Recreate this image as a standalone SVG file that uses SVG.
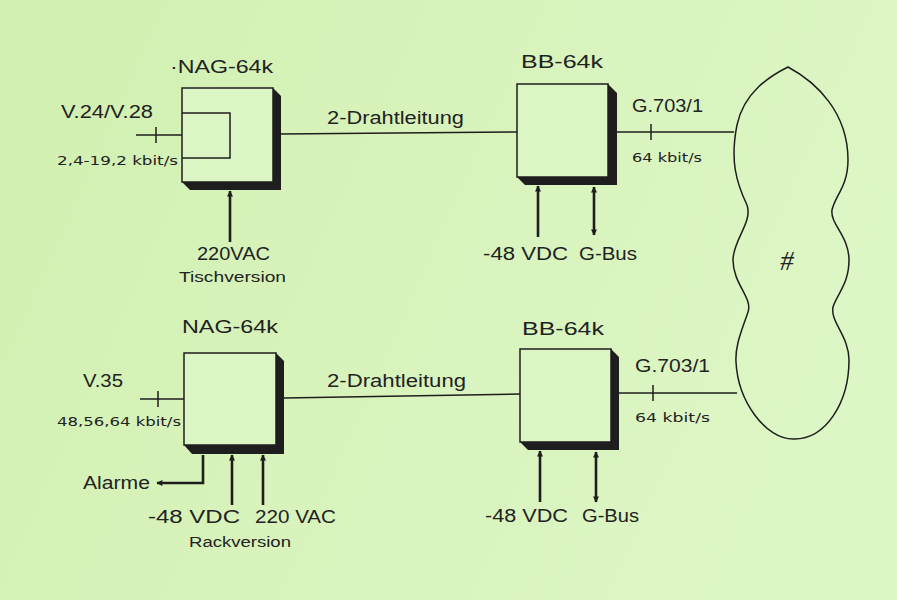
<svg xmlns="http://www.w3.org/2000/svg" width="897" height="600" viewBox="0 0 897 600">
<defs>
<linearGradient id="bg" x1="0" y1="0" x2="1" y2="0.3">
<stop offset="0" stop-color="#d2f0b1"/>
<stop offset="1" stop-color="#ddf6c5"/>
</linearGradient>
<marker id="ah" viewBox="0 0 10 10" refX="9" refY="5" markerWidth="9" markerHeight="6" markerUnits="userSpaceOnUse" orient="auto-start-reverse">
<path d="M0,0 L10,5 L0,10 Z" fill="#1e1e1e"/>
</marker>
</defs>
<style>
.t{font-family:"Liberation Sans","DejaVu Sans",sans-serif;fill:#222;font-size:17.5px}
.s{font-family:"DejaVu Sans","Liberation Sans",sans-serif;font-size:11.5px}
.m{font-size:14px}
.ln{stroke:#1e1e1e;stroke-width:1.5;fill:none}
.ar{stroke:#1e1e1e;stroke-width:2.6;fill:none}
.box{fill:#dcf5c4;stroke:#1e1e1e;stroke-width:1.5}
.sh{fill:#1e1e1e}
</style>
<rect width="897" height="600" fill="url(#bg)"/>

<g id="nag1">
<polygon class="sh" points="273,88 281,96 281,190 190,190 182,182 273,182"/>
<rect class="box" x="182" y="88" width="91" height="94"/>
<polyline class="ln" points="182,113 230,113 230,158 182,158"/>
<text class="t" x="170" y="73" textLength="103" lengthAdjust="spacingAndGlyphs">·NAG-64k</text>
</g>

<g id="bb1">
<polygon class="sh" points="608,84 617,93 617,185 525,185 517,177 608,177"/>
<rect class="box" x="517" y="84" width="91" height="93"/>
<text class="t" x="521" y="68" textLength="82" lengthAdjust="spacingAndGlyphs">BB-64k</text>
</g>

<g id="nag2">
<polygon class="sh" points="276,353 284,361 284,454 192,454 184,445 276,445"/>
<rect class="box" x="184" y="353" width="92" height="92"/>
<text class="t" x="182" y="333" textLength="96" lengthAdjust="spacingAndGlyphs">NAG-64k</text>
</g>

<g id="bb2">
<polygon class="sh" points="611,349 619,357 619,450 528,450 520,442 611,442"/>
<rect class="box" x="520" y="349" width="91" height="93"/>
<text class="t" x="522" y="335" textLength="82" lengthAdjust="spacingAndGlyphs">BB-64k</text>
</g>

<g id="network">
<path class="ln" d="M788,67 C770,76 744,92 737,125 C730,160 736,182 747,205 C753,222 733,240 733,260 C733,284 753,298 748,312 C742,330 735,345 736,362 C738,402 766,439 793,439 C826,440 849,402 849,360 C849,336 830,322 833,307 C837,294 849,284 849,260 C849,236 830,224 832,210 C835,196 848,186 848,160 C848,112 816,82 788,67 Z"/>
<text x="787" y="270" font-family="Liberation Serif, serif" font-style="italic" font-size="27" fill="#222" text-anchor="middle">#</text>
</g>

<g id="connectors">
<line class="ln" x1="136" y1="135" x2="182" y2="135"/>
<line class="ln" x1="156" y1="127" x2="156" y2="143"/>
<line class="ln" x1="281" y1="134" x2="517" y2="132"/>
<line class="ln" x1="617" y1="132" x2="734" y2="132"/>
<line class="ln" x1="651" y1="124" x2="651" y2="140"/>
<line class="ar" x1="230" y1="242" x2="230" y2="191" marker-end="url(#ah)"/>
<line class="ar" x1="538" y1="237" x2="538" y2="186" marker-end="url(#ah)"/>
<line class="ar" x1="594" y1="187" x2="594" y2="235" marker-start="url(#ah)" marker-end="url(#ah)"/>

<line class="ln" x1="140" y1="399" x2="184" y2="399"/>
<line class="ln" x1="158" y1="391" x2="158" y2="407"/>
<line class="ln" x1="284" y1="398" x2="520" y2="394"/>
<line class="ln" x1="619" y1="393" x2="737" y2="393"/>
<line class="ln" x1="653" y1="385" x2="653" y2="401"/>
<polyline class="ar" points="203,455 203,483 157,483" marker-end="url(#ah)"/>
<line class="ar" x1="232" y1="505" x2="232" y2="455" marker-end="url(#ah)"/>
<line class="ar" x1="263" y1="505" x2="263" y2="455" marker-end="url(#ah)"/>
<line class="ar" x1="540" y1="502" x2="540" y2="451" marker-end="url(#ah)"/>
<line class="ar" x1="596" y1="452" x2="596" y2="502" marker-start="url(#ah)" marker-end="url(#ah)"/>
</g>

<g id="labels">
<text class="t" x="61" y="118" textLength="92" lengthAdjust="spacingAndGlyphs">V.24/V.28</text>
<text class="t s" x="57" y="165" textLength="121" lengthAdjust="spacingAndGlyphs">2,4-19,2 kbit/s</text>
<text class="t" x="197" y="260" textLength="73" lengthAdjust="spacingAndGlyphs">220VAC</text>
<text class="t m" x="179" y="282" textLength="107" lengthAdjust="spacingAndGlyphs">Tischversion</text>
<text class="t" x="327" y="124" textLength="137" lengthAdjust="spacingAndGlyphs">2-Drahtleitung</text>
<text class="t" x="632" y="112" textLength="71" lengthAdjust="spacingAndGlyphs">G.703/1</text>
<text class="t s" x="632" y="162" textLength="70" lengthAdjust="spacingAndGlyphs">64 kbit/s</text>
<text class="t" x="483" y="260" textLength="85" lengthAdjust="spacingAndGlyphs">-48 VDC</text>
<text class="t" x="579" y="260" textLength="58" lengthAdjust="spacingAndGlyphs">G-Bus</text>

<text class="t" x="83" y="387" textLength="40" lengthAdjust="spacingAndGlyphs">V.35</text>
<text class="t s" x="57" y="426" textLength="124" lengthAdjust="spacingAndGlyphs">48,56,64 kbit/s</text>
<text class="t" x="83" y="489" textLength="67" lengthAdjust="spacingAndGlyphs">Alarme</text>
<text class="t" x="148" y="523" textLength="92" lengthAdjust="spacingAndGlyphs">-48 VDC</text>
<text class="t" x="255" y="523" textLength="81" lengthAdjust="spacingAndGlyphs">220 VAC</text>
<text class="t m" x="189" y="547" textLength="102" lengthAdjust="spacingAndGlyphs">Rackversion</text>
<text class="t" x="327" y="387" textLength="139" lengthAdjust="spacingAndGlyphs">2-Drahtleitung</text>
<text class="t" x="635" y="372" textLength="75" lengthAdjust="spacingAndGlyphs">G.703/1</text>
<text class="t s" x="635" y="422" textLength="75" lengthAdjust="spacingAndGlyphs">64 kbit/s</text>
<text class="t" x="485" y="522" textLength="83" lengthAdjust="spacingAndGlyphs">-48 VDC</text>
<text class="t" x="582" y="522" textLength="57" lengthAdjust="spacingAndGlyphs">G-Bus</text>
</g>
</svg>
